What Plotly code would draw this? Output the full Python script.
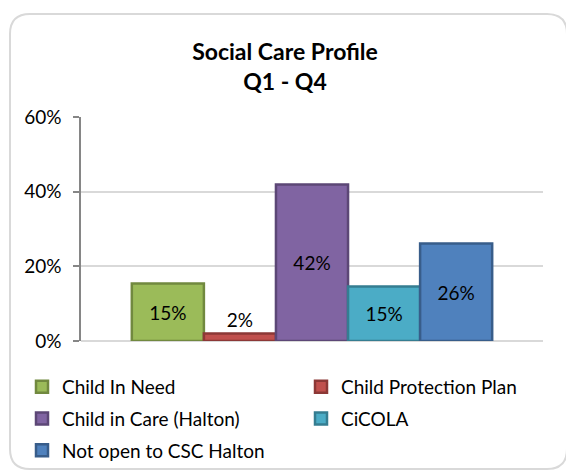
import plotly.graph_objects as go

# ---- data ----
categories = ["Child In Need", "Child Protection Plan", "Child in Care (Halton)",
              "CiCOLA", "Not open to CSC Halton"]
values = [0.154, 0.020, 0.419, 0.146, 0.261]
fill_colors = ["#9BBB59", "#C0504D", "#8064A2", "#4BACC6", "#4F81BD"]
line_colors = ["#71893F", "#8C3836", "#5C4776", "#357D91", "#385D8A"]
legend_column = ["legend", "legend2", "legend", "legend2", "legend"]
y_ticks = [0, 0.2, 0.4, 0.6]
y_tick_labels = ["0%", "20%", "40%", "60%"]
title_text = "<b>Social Care Profile<br>Q1 - Q4</b>"

FONT = "Lato"
W, H = 566, 471
ML, MR, MT, MB = 81, 23, 117, 130
PW, PH = W - ML - MR, H - MT - MB


def px(x):
    return (x - ML) / PW


def py(y):
    return (H - MB - y) / PH


fig = go.Figure()
for i, (name, v, fc, lc, lg) in enumerate(zip(categories, values, fill_colors,
                                                line_colors, legend_column)):
    small = v < 0.05
    fig.add_trace(go.Bar(
        x=["Q1 - Q4"], y=[v], name=name,
        legend=lg, legendgroup=f"g{i}",
        marker=dict(color=fc, line=dict(color=lc, width=2.5)),
        texttemplate="%{y:.0%}",
        textposition="outside" if small else "inside",
        insidetextanchor="middle",
        textangle=0,
        constraintext="none",
        cliponaxis=False,
        textfont=dict(family=FONT, size=19, color="#000000"),
        hoverinfo="skip",
    ))

# rounded chart-area border
x0, y0, x1, y1, r = 10, 14, 567, 469, 20
path = (
    f"M {px(x0 + r)},{py(y0)} L {px(x1 - r)},{py(y0)} "
    f"Q {px(x1)},{py(y0)} {px(x1)},{py(y0 + r)} "
    f"L {px(x1)},{py(y1 - r)} Q {px(x1)},{py(y1)} {px(x1 - r)},{py(y1)} "
    f"L {px(x0 + r)},{py(y1)} Q {px(x0)},{py(y1)} {px(x0)},{py(y1 - r)} "
    f"L {px(x0)},{py(y0 + r)} Q {px(x0)},{py(y0)} {px(x0 + r)},{py(y0)} Z"
)

legend_common = dict(orientation="v", xanchor="left", yanchor="top",
                     font=dict(family=FONT, size=19, color="#000000"),
                     traceorder="grouped", itemclick=False, itemdoubleclick=False,
                     tracegroupgap=4, bgcolor="rgba(0,0,0,0)", borderwidth=0)

fig.update_layout(
    width=W, height=H,
    margin=dict(l=ML, r=MR, t=MT, b=MB, autoexpand=False),
    paper_bgcolor="white", plot_bgcolor="white",
    barmode="group", bargap=0.22, bargroupgap=0,
    font=dict(family=FONT, size=19, color="#000000"),
    title=dict(text=title_text, x=285 / W, xanchor="center", xref="container",
               y=1 - 60 / H, yanchor="top", yref="container",
               font=dict(family=FONT, size=23, color="#000000")),
    showlegend=True,
    legend=dict(x=px(22), y=py(368), **legend_common),
    legend2=dict(x=px(301), y=py(368), **legend_common),
    shapes=[dict(type="path", path=path, xref="paper", yref="paper",
                 line=dict(color="#D9D9D9", width=2), layer="below")],
)

fig.update_xaxes(showticklabels=False, showgrid=False, showline=False, zeroline=False,
                 ticks="")
fig.update_yaxes(range=[0, 0.6], tickvals=y_ticks, ticktext=y_tick_labels,
                 showgrid=True, gridcolor="#D9D9D9", gridwidth=1.5,
                 zeroline=True, zerolinecolor="#D9D9D9", zerolinewidth=1.5,
                 showline=True, linecolor="#868686", linewidth=1.5,
                 ticks="outside", ticklen=6, tickcolor="#868686", tickwidth=1.5,
                 ticklabelstandoff=8,
                 tickfont=dict(family=FONT, size=19, color="#000000"))

fig.write_html("out.html")
